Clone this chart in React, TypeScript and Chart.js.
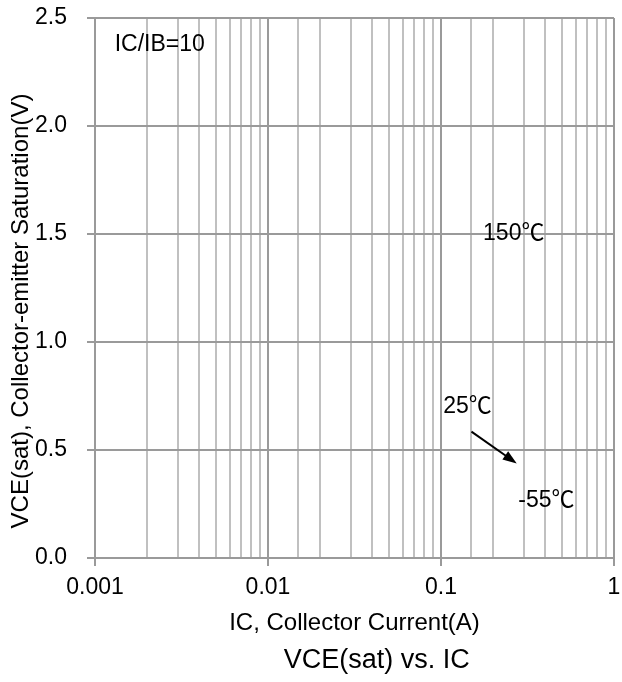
import React, { useEffect, useRef } from 'react';
import { Chart, registerables } from 'chart.js';

Chart.register(...registerables);

const FONT = "'Liberation Sans', Arial, 'Noto Sans CJK SC', sans-serif";

// Axes
const xMin = 0.001;
const xMax = 1;
const xTickValues = [0.001, 0.01, 0.1, 1];
const xTickLabels = ['0.001', '0.01', '0.1', '1'];
const yMin = 0;
const yMax = 2.5;
const yStep = 0.5;
const yTickLabels = ['0.0', '0.5', '1.0', '1.5', '2.0', '2.5'];

// Series (the reference shows no plotted curves)
const seriesNames = ['150℃', '25℃', '-55℃'];
const seriesIC: number[][] = [[], [], []];
const seriesVCE: number[][] = [[], [], []];

// Annotations, in data units
const noteTexts = ['IC/IB=10', '150℃', '25℃', '-55℃'];
const noteX = [0.0013, 0.175, 0.103, 0.28];
const noteY = [2.375, 1.5, 0.7, 0.266];
const arrowFrom = [0.15, 0.585];
const arrowTo = [0.274, 0.438];

const xTitle = 'IC, Collector Current(A)';
const yTitle = 'VCE(sat), Collector-emitter Saturation(V)';
const caption = 'VCE(sat) vs. IC';

const isMajor = (v: number) => {
  const l = Math.log10(v);
  return Math.abs(l - Math.round(l)) < 1e-6;
};

const notesPlugin = {
  id: 'notes',
  afterDraw(chart: any) {
    const { ctx, chartArea } = chart;
    const xs = chart.scales.x;
    const ys = chart.scales.y;
    ctx.save();
    ctx.fillStyle = '#000';
    ctx.strokeStyle = '#000';
    ctx.textBaseline = 'middle';
    ctx.textAlign = 'left';
    ctx.font = `23px ${FONT}`;
    noteTexts.forEach((t, i) => {
      ctx.fillText(t, xs.getPixelForValue(noteX[i]), ys.getPixelForValue(noteY[i]));
    });
    // arrow
    const x1 = xs.getPixelForValue(arrowFrom[0]);
    const y1 = ys.getPixelForValue(arrowFrom[1]);
    const x2 = xs.getPixelForValue(arrowTo[0]);
    const y2 = ys.getPixelForValue(arrowTo[1]);
    const ang = Math.atan2(y2 - y1, x2 - x1);
    const hl = 14;
    const hw = 5;
    ctx.lineWidth = 2;
    ctx.beginPath();
    ctx.moveTo(x1, y1);
    ctx.lineTo(x2 - Math.cos(ang) * hl * 0.8, y2 - Math.sin(ang) * hl * 0.8);
    ctx.stroke();
    ctx.beginPath();
    ctx.moveTo(x2, y2);
    ctx.lineTo(x2 - Math.cos(ang) * hl - Math.sin(ang) * hw, y2 - Math.sin(ang) * hl + Math.cos(ang) * hw);
    ctx.lineTo(x2 - Math.cos(ang) * hl + Math.sin(ang) * hw, y2 - Math.sin(ang) * hl - Math.cos(ang) * hw);
    ctx.closePath();
    ctx.fill();
    // y axis title
    ctx.save();
    ctx.translate(21, (chartArea.top + chartArea.bottom) / 2 + 23);
    ctx.rotate(-Math.PI / 2);
    ctx.textAlign = 'center';
    ctx.font = `24px ${FONT}`;
    ctx.fillText(yTitle, 0, 0);
    ctx.restore();
    // caption
    ctx.textAlign = 'center';
    ctx.font = `27px ${FONT}`;
    ctx.fillText(caption, chartArea.left + (chartArea.right - chartArea.left) * 0.543, chart.height - 21);
    ctx.restore();
  },
};

export default function App() {
  const ref = useRef<HTMLCanvasElement | null>(null);
  useEffect(() => {
    if (!ref.current) return;
    const chart = new Chart(ref.current, {
      type: 'line',
      data: {
        datasets: seriesNames.map((name, i) => ({
          label: name,
          data: seriesIC[i].map((v, j) => ({ x: v, y: seriesVCE[i][j] })),
          borderColor: '#000',
          borderWidth: 2,
          pointRadius: 0,
        })),
      },
      options: {
        responsive: false,
        animation: false,
        devicePixelRatio: 1,
        layout: { padding: { top: 18, right: 8, bottom: 42, left: 0 } },
        plugins: {
          legend: { display: false },
          tooltip: { enabled: false },
          title: { display: false },
        },
        scales: {
          x: {
            type: 'logarithmic',
            min: xMin,
            max: xMax,
            afterFit: (s: any) => {
              s.height = 82;
              s.paddingLeft = 0;
              s.paddingRight = 0;
            },
            ticks: {
              autoSkip: false,
              maxRotation: 0,
              padding: 8,
              color: '#000',
              font: { family: FONT, size: 23 },
              callback: (v: any) => {
                const i = xTickValues.findIndex((t) => Math.abs(Math.log10(t) - Math.log10(Number(v))) < 1e-6);
                return i >= 0 ? xTickLabels[i] : '';
              },
            },
            grid: {
              color: (c: any) => (c.tick && isMajor(c.tick.value) ? '#9a9a9a' : '#c0c0c0'),
              lineWidth: 2,
              tickLength: 8,
              tickWidth: 2,
              tickColor: (c: any) => (c.tick && isMajor(c.tick.value) ? '#9a9a9a' : 'rgba(0,0,0,0)'),
            },
            border: { color: '#9a9a9a', width: 2 },
            title: {
              display: true,
              text: xTitle,
              color: '#000',
              font: { family: FONT, size: 24 },
              padding: { top: 0, bottom: 2 },
            },
          },
          y: {
            type: 'linear',
            min: yMin,
            max: yMax,
            afterFit: (s: any) => {
              s.width = 95;
              s.paddingTop = 0;
              s.paddingBottom = 0;
            },
            ticks: {
              stepSize: yStep,
              padding: 20,
              color: '#000',
              font: { family: FONT, size: 23 },
              callback: (_v: any, i: number) => yTickLabels[i],
            },
            grid: {
              color: '#9a9a9a',
              lineWidth: 2,
              tickLength: 8,
              tickWidth: 2,
              tickColor: '#9a9a9a',
            },
            border: { color: '#9a9a9a', width: 2 },
          },
        },
      },
      plugins: [notesPlugin],
    } as any);
    return () => chart.destroy();
  }, []);
  return (
    <div style={{ position: 'absolute', left: 0, top: 0, width: 622, height: 682, background: '#fff' }}>
      <canvas ref={ref} width={622} height={682} style={{ display: 'block' }} />
    </div>
  );
}
